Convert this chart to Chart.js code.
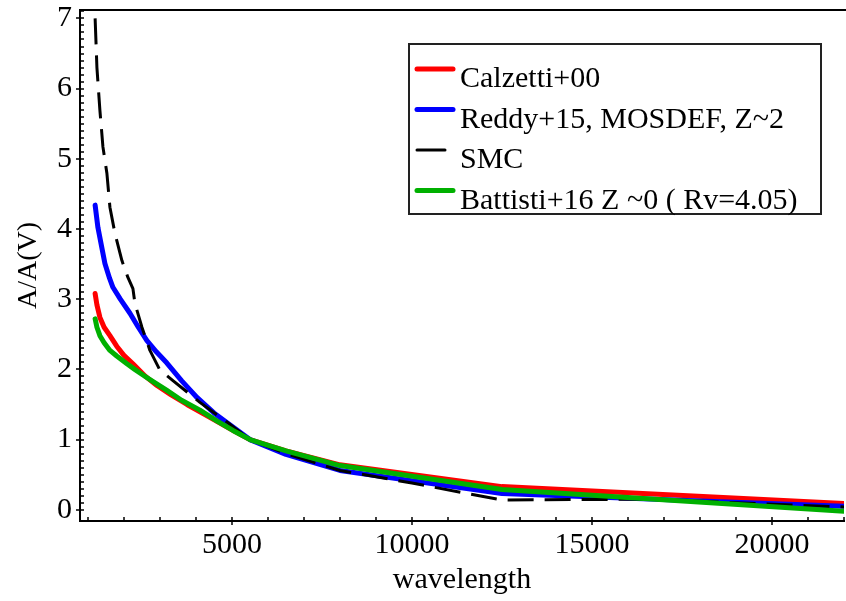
<!DOCTYPE html>
<html>
<head>
<meta charset="utf-8">
<script src="https://cdn.jsdelivr.net/npm/chart.js@4.4.1/dist/chart.umd.min.js"></script>
<style>
  html, body { margin: 0; padding: 0; background: #fff; }
  #wrap { width: 846px; height: 601px; }
</style>
</head>
<body>
<div id="wrap"><canvas id="extChart" width="846" height="601"></canvas></div>
<script>
// values
const seriesNames = ['Calzetti+00', 'Reddy+15, MOSDEF, Z~2', 'SMC', 'Battisti+16 Z ~0 ( Rv=4.05)'];

const calzettiWave = [1200, 1250, 1333, 1450, 1611, 1800, 2000, 2250, 2600, 2917, 3300, 3750, 4200, 4583, 5000, 5500, 6500, 8000, 12500, 22000];
const calzettiA    = [3.08, 2.92, 2.74, 2.60, 2.48, 2.33, 2.20, 2.08, 1.90, 1.77, 1.64, 1.50, 1.37, 1.26, 1.14, 1.00, 0.84, 0.64, 0.33, 0.09];

const reddyWave = [1200, 1278, 1380, 1472, 1600, 1694, 1900, 2167, 2400, 2639, 2900, 3194, 3600, 4028, 4500, 5028, 5500, 6500, 8000, 12500, 22000];
const reddyA    = [4.34, 4.02, 3.75, 3.51, 3.30, 3.17, 3.00, 2.80, 2.60, 2.41, 2.25, 2.09, 1.84, 1.60, 1.38, 1.18, 1.00, 0.79, 0.56, 0.23, 0.05];

const smcWave = [1200, 1250, 1333, 1417, 1528, 1611, 1750, 1944, 2111, 2250, 2306, 2500, 2722, 3000, 3361, 4111, 4861, 5500, 6500, 8000, 10000, 12500, 16500, 22000];
const smcA    = [7.00, 6.30, 5.69, 5.17, 4.79, 4.31, 3.94, 3.55, 3.31, 3.15, 2.94, 2.60, 2.27, 1.99, 1.84, 1.53, 1.25, 1.00, 0.80, 0.56, 0.38, 0.14, 0.15, 0.04];

const battistiWave = [1200, 1250, 1333, 1450, 1611, 1800, 2083, 2300, 2528, 2800, 3194, 3600, 4111, 4600, 5028, 5500, 6500, 8000, 12500, 22000];
const battistiA    = [2.72, 2.60, 2.48, 2.38, 2.27, 2.19, 2.08, 2.00, 1.92, 1.83, 1.70, 1.56, 1.42, 1.26, 1.13, 1.00, 0.84, 0.63, 0.29, -0.02];

const xTickLabels = [5000, 10000, 15000, 20000];
const yTickLabels = [0, 1, 2, 3, 4, 5, 6, 7];

const FONT = "'Liberation Serif', 'Times New Roman', serif";

function pairs(wave, vals) {
  return wave.map((w, i) => ({ x: w, y: vals[i] }));
}

// minor/major tick marks and the top frame line
const frameTicks = {
  id: 'frameTicks',
  afterDraw(chart) {
    const { ctx, chartArea: a, scales: { x, y } } = chart;
    ctx.save();
    ctx.strokeStyle = '#000';
    ctx.lineWidth = 2;
    ctx.beginPath();
    ctx.moveTo(a.left - 1, a.top);
    ctx.lineTo(chart.width, a.top);
    ctx.stroke();

    ctx.lineWidth = 1.5;
    ctx.beginPath();
    for (let v = 1000; v <= x.max; v += 1000) {
      const px = Math.round(x.getPixelForValue(v));
      const major = v % 5000 === 0;
      ctx.moveTo(px, a.bottom - 4);
      ctx.lineTo(px, a.bottom + (major ? 4 : 0));
    }
    for (let i = 0; i / 10 <= y.max; i++) {
      const py = Math.round(y.getPixelForValue(i / 10));
      const major = i % 10 === 0;
      ctx.moveTo(a.left + 4, py);
      ctx.lineTo(a.left - (major ? 4 : 0), py);
    }
    ctx.stroke();
    ctx.restore();
  }
};

// boxed legend inside the plot
const boxLegend = {
  id: 'boxLegend',
  afterDraw(chart) {
    const { ctx } = chart;
    const left = 409, top = 44, w = 412, h = 170;
    ctx.save();
    ctx.fillStyle = '#fff';
    ctx.fillRect(left, top, w, h);
    ctx.strokeStyle = '#222';
    ctx.lineWidth = 2;
    ctx.strokeRect(left, top, w, h);
    ctx.font = '30px ' + FONT;
    ctx.textBaseline = 'alphabetic';
    ctx.textAlign = 'left';
    chart.data.datasets.forEach((ds, i) => {
      const base = top + 43 + i * 40.5;
      const ly = base - 18;
      ctx.strokeStyle = ds.borderColor;
      ctx.lineWidth = i === 2 ? 3 : 5;
      ctx.lineCap = 'round';
      ctx.beginPath();
      ctx.moveTo(left + 8, ly);
      ctx.lineTo(left + (i === 2 ? 36 : 44), ly);
      ctx.stroke();
      ctx.fillStyle = '#000';
      ctx.fillText(ds.label, left + 51, base);
    });
    ctx.restore();
  }
};

new Chart(document.getElementById('extChart'), {
  type: 'line',
  data: {
    datasets: [
      { label: seriesNames[0], data: pairs(calzettiWave, calzettiA), borderColor: '#ff0000', borderWidth: 5, order: 4 },
      { label: seriesNames[1], data: pairs(reddyWave, reddyA), borderColor: '#0000ff', borderWidth: 5, order: 3 },
      { label: seriesNames[2], data: pairs(smcWave, smcA), borderColor: '#000000', borderWidth: 3, borderDash: [26, 11], borderCapStyle: 'butt', order: 2 },
      { label: seriesNames[3], data: pairs(battistiWave, battistiA), borderColor: '#00b000', borderWidth: 5, order: 1 }
    ]
  },
  options: {
    responsive: false,
    animation: false,
    layout: { padding: { top: 10, right: 2, left: 0, bottom: 0 } },
    elements: {
      point: { radius: 0 },
      line: { tension: 0, borderCapStyle: 'round', borderJoinStyle: 'round', fill: false }
    },
    plugins: { legend: { display: false }, tooltip: { enabled: false } },
    scales: {
      x: {
        type: 'linear',
        min: 780,
        max: 22000,
        afterBuildTicks: s => { s.ticks = xTickLabels.map(v => ({ value: v })); },
        afterFit: s => { s.height = 80; s.paddingLeft = 0; s.paddingRight = 0; },
        ticks: { color: '#000', font: { family: FONT, size: 30 }, padding: 6, maxRotation: 0, autoSkip: false, callback: v => String(v) },
        grid: { display: false, drawTicks: false },
        border: { display: true, color: '#000', width: 2 },
        title: { display: true, text: 'wavelength', color: '#000', font: { family: FONT, size: 30 }, padding: { top: 0, bottom: 3 } }
      },
      y: {
        type: 'linear',
        min: -0.16,
        max: 7.12,
        afterBuildTicks: s => { s.ticks = yTickLabels.map(v => ({ value: v })); },
        afterFit: s => { s.width = 80; s.paddingTop = 0; s.paddingBottom = 0; },
        ticks: { color: '#000', font: { family: FONT, size: 30 }, padding: 8, callback: v => String(v) },
        grid: { display: false, drawTicks: false },
        border: { display: true, color: '#000', width: 2 },
        title: { display: true, text: 'A/A(V)', color: '#000', font: { family: FONT, size: 28 }, padding: { top: 12, bottom: 0 } }
      }
    }
  },
  plugins: [frameTicks, boxLegend]
});
</script>
</body>
</html>
